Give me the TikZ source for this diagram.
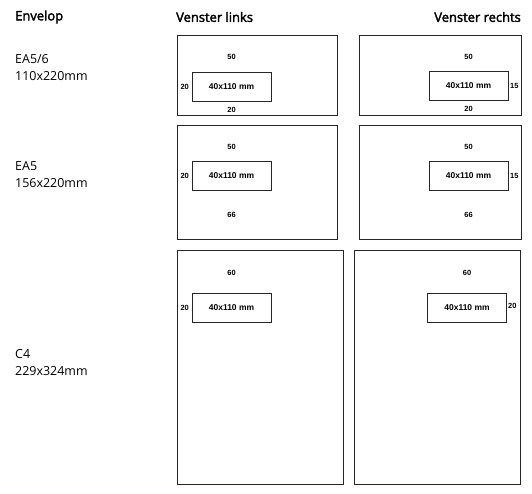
\documentclass[tikz,border=0pt]{standalone}
\usepackage{fontspec}
\setmainfont{Open Sans}
\newfontfamily\kopfont[FakeBold=2.5]{Open Sans}
\newfontfamily\maatfont{Liberation Sans}
\usetikzlibrary{positioning}
\begin{document}
\begin{tikzpicture}[x=1bp, y=-1bp,
  kop/.style={font=\kopfont\fontsize{13}{15}\selectfont, inner sep=0},
  soort/.style={anchor=west, align=left, inner sep=0, font=\fontsize{12.5}{17}\selectfont},
  envelop/.style={draw=black!85, line width=1bp, rectangle, inner sep=0},
  venster/.style={draw=black!85, line width=0.9bp, rectangle, inner sep=0, minimum width=79bp, minimum height=29bp, font=\maatfont\bfseries\fontsize{8.5}{10}\selectfont},
  maat/.style={inner sep=0, font=\maatfont\bfseries\fontsize{7.5}{8}\selectfont}]
\useasboundingbox (0,0) rectangle (532,494);
\node[kop, anchor=west] (hEnv) at (15,17) {Envelop};
\node[kop, anchor=west] (hLinks) at (176,17) {Venster links};
\node[kop, anchor=east] (hRechts) at (521,17) {Venster rechts};
\node[soort] (sEA56) at (15,67.5) {EA5/6\\110x220mm};
\node[soort] (sEA5) at (15,175) {EA5\\156x220mm};
\node[soort] (sC4) at (15,362.5) {C4\\229x324mm};
\node[envelop, minimum width=160bp, minimum height=80bp] (e11) at (257,76) {};
\node[envelop, minimum width=162bp, minimum height=80bp] (e12) at (440,76) {};
\node[envelop, minimum width=160bp, minimum height=113bp] (e21) at (257,182.5) {};
\node[envelop, minimum width=162bp, minimum height=113bp] (e22) at (440,182.5) {};
\node[envelop, minimum width=166bp, minimum height=233bp] (e31) at (260,367.5) {};
\node[envelop, minimum width=166bp, minimum height=233bp] (e32) at (437,367.5) {};
\node[venster] (w11) at (231.5,86.5) {40x110 mm};
\node[venster] (w12) at (468.5,86) {40x110 mm};
\node[venster] (w21) at (231.5,176) {40x110 mm};
\node[venster] (w22) at (468.5,176) {40x110 mm};
\node[venster] (w31) at (231.5,308) {40x110 mm};
\node[venster] (w32) at (467,308) {40x110 mm};
\node[maat, above=11.5bp of w11] (m11t) {50};
\node[maat, left=2.5bp of w11] (m11l) {20};
\node[maat, below=5.5bp of w11] (m11b) {20};
\node[maat, above=11.5bp of w12] (m12t) {50};
\node[maat, right=1.5bp of w12] (m12r) {15};
\node[maat, below=5.5bp of w12] (m12b) {20};
\node[maat, above=11.5bp of w21] (m21t) {50};
\node[maat, left=2.5bp of w21] (m21l) {20};
\node[maat, below=21.5bp of w21] (m21b) {66};
\node[maat, above=11.5bp of w22] (m22t) {50};
\node[maat, right=1.5bp of w22] (m22r) {15};
\node[maat, below=21.5bp of w22] (m22b) {66};
\node[maat, above=17.5bp of w31] (m31t) {60};
\node[maat, left=2.5bp of w31] (m31l) {20};
\node[maat, above=17.5bp of w32] (m32t) {60};
\node[maat, right=1bp of w32, yshift=2bp] (m32r) {20};
\end{tikzpicture}
\end{document}
